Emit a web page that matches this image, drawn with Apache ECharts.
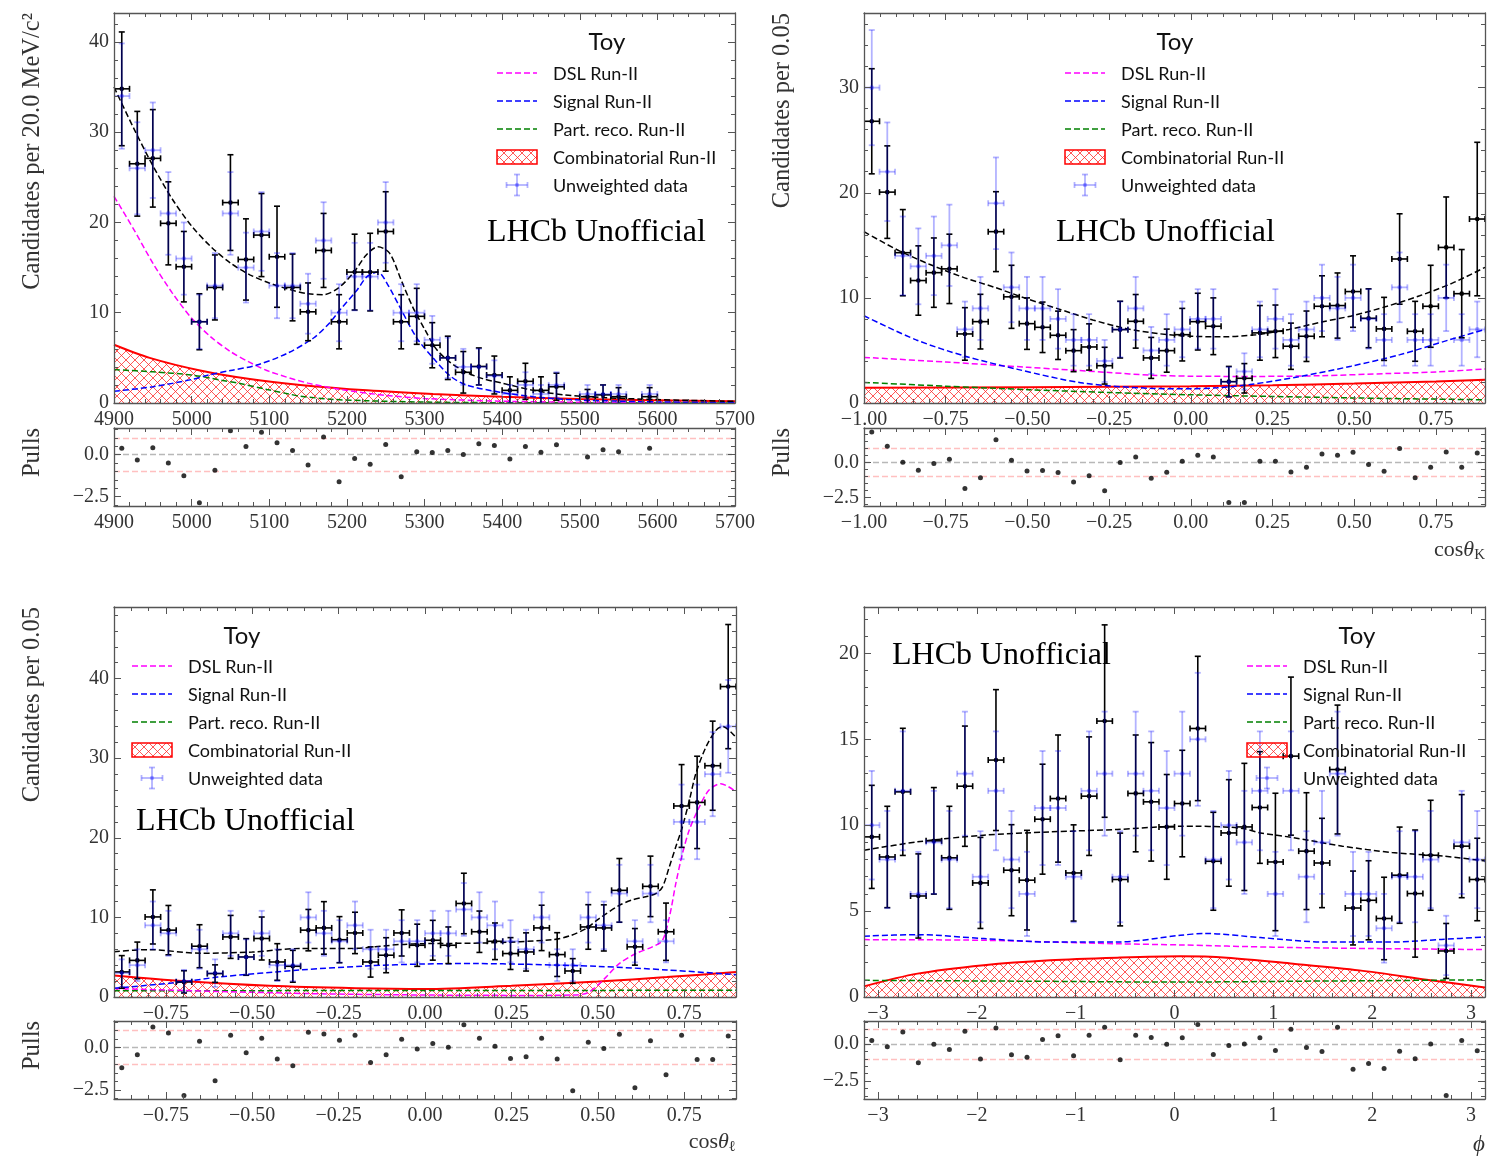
<!DOCTYPE html>
<html>
<head>
<meta charset="utf-8">
<script src="https://cdn.jsdelivr.net/npm/echarts@6/dist/echarts.min.js"></script>
<style>
  html, body { margin: 0; padding: 0; background: #fff; }
  #chart { width: 1491px; height: 1156px; }
</style>
</head>
<body>
<div id="chart"></div>
<script>
// ---------------- Binning ----------------
const massRange = [4900, 5700];
const cosKRange = [-1.0, 0.9];
const cosLRange = [-0.9, 0.9];
const phiRange = [-Math.PI, Math.PI];
const nBins = 40;

// ---------------- B mass panel ----------------
const massWeighted = [34.8, 26.5, 27.1, 19.9, 15.1, 9.0, 12.8, 22.2, 15.9, 18.6, 16.2, 12.8, 10.1, 16.9, 9.0, 14.5, 14.5, 19.0, 9.0, 9.6, 6.4, 5.0, 3.4, 4.05, 3.1, 1.4, 2.4, 1.4, 1.8, null, 0.7, 0.9, 0.7, null, 0.7, null, null, null, null, null];
const massWeightedErr = [6.3, 5.8, 5.4, 4.6, 3.9, 3.1, 3.6, 5.3, 4.5, 4.6, 5.6, 3.7, 3.2, 4.1, 3.0, 4.2, 4.3, 4.4, 3.0, 3.1, 2.5, 2.4, 2.3, 2.05, 2.1, 1.5, 2.0, 1.5, 1.5, null, 0.8, 1.1, 1.0, null, 1.0, null, null, null, null, null];
const massUnweighted = [34, 26, 28, 21, 16, 9, 13, 21, 15, 19, 13, 13, 11, 18, 10, 14, 14, 20, 10, 10, 7, 5, 4, 4, 3, 1, 2, 1, 2, null, 1, 1, 1, null, 1, null, null, null, null, null];
const massUnweightedErr = [5.83, 5.10, 5.29, 4.58, 4.00, 3.00, 3.61, 4.58, 3.87, 4.36, 3.61, 3.61, 3.32, 4.24, 3.16, 3.74, 3.74, 4.47, 3.16, 3.16, 2.65, 2.24, 2.00, 2.00, 1.73, 1.00, 1.41, 1.00, 1.41, null, 1.00, 1.00, 1.00, null, 1.00, null, null, null, null, null];
const massPulls = [0.38, -0.32, 0.40, -0.50, -1.26, -2.86, -0.94, 1.42, 0.48, 1.32, 0.70, 0.24, -0.62, 1.04, -1.62, -0.24, -0.58, 0.60, -1.32, 0.16, 0.12, 0.24, 0.00, 0.64, 0.54, -0.26, 0.48, 0.14, 0.58, null, -0.14, 0.28, 0.16, null, 0.38, null, null, null, null, null];
const massTotal = [[4900,35.0],[4925,30.5],[4950,26.3],[4975,22.6],[5000,19.6],[5025,17.3],[5050,15.5],[5075,14.2],[5100,13.3],[5125,12.6],[5150,12.1],[5170,12.0],[5190,12.8],[5210,14.6],[5225,16.4],[5240,17.3],[5255,16.6],[5270,13.6],[5285,10.6],[5300,8.2],[5315,6.0],[5333,4.5],[5354,3.4],[5375,2.7],[5400,2.2],[5440,1.4],[5480,0.9],[5530,0.6],[5600,0.38],[5700,0.18]];
const massDSL = [[4900,22.9],[4925,19.3],[4950,15.5],[4975,12.2],[5000,9.4],[5025,7.3],[5050,5.7],[5075,4.5],[5100,3.5],[5150,2.2],[5200,1.4],[5250,0.85],[5300,0.5],[5400,0.2],[5500,0.08],[5600,0.03],[5700,0.01]];
const massSignal = [[4900,1.3],[4950,1.8],[5000,2.6],[5022,3.1],[5050,3.6],[5084,4.2],[5123,5.5],[5157,7.2],[5178,8.9],[5191,10.3],[5213,12.5],[5226,14.0],[5240,14.5],[5252,13.2],[5269,10.5],[5290,7.2],[5311,5.0],[5333,3.0],[5354,2.0],[5397,1.2],[5440,0.7],[5483,0.4],[5530,0.25],[5600,0.12],[5700,0.05]];
const massPartReco = [[4900,3.7],[4950,3.45],[5000,3.1],[5040,2.5],[5060,2.2],[5097,1.5],[5125,1.0],[5140,0.75],[5183,0.4],[5226,0.25],[5300,0.1],[5400,0.03],[5700,0.0]];
const massComb = [[4900,6.45],[4946,5.0],[5011,3.6],[5075,2.65],[5140,2.0],[5226,1.4],[5311,1.0],[5400,0.7],[5500,0.45],[5600,0.3],[5700,0.2]];

// ---------------- cos(theta_K) panel ----------------
const cosKWeighted = [26.8, 20.06, 14.3, 11.65, 12.4, 12.76, 6.57, 7.74, 16.3, 10.1, 7.55, 7.2, 6.44, 4.98, 5.33, 3.55, 6.98, 7.77, 4.29, 4.98, 6.5, 7.74, 7.3, 2.03, 2.35, 6.67, 6.82, 5.4, 6.35, 9.2, 9.27, 10.6, 8.06, 7.05, 13.7, 6.82, 9.2, 14.8, 10.4, 17.5];
const cosKWeightedErr = [5.0, 4.4, 4.1, 3.3, 3.3, 3.3, 2.5, 2.6, 3.8, 3.0, 2.45, 2.4, 2.3, 2.0, 2.2, 1.75, 2.7, 2.55, 1.95, 2.05, 2.5, 2.7, 2.7, 1.45, 1.4, 2.6, 2.5, 2.2, 2.4, 2.9, 3.1, 3.4, 2.8, 3.0, 4.3, 2.85, 3.9, 4.8, 4.2, 7.3];
const cosKUnweighted = [30, 22, 14, 13, 14, 15, 7, 9, 19, 11, 9, 9, 8, 6, 6, 4, 7, 9, 5, 6, 7, 8, 8, 2, 3, 7, 8, 6, 7, 10, 9, 10, 8, 6, 11, 6, 6, 10, 6, 7];
const cosKUnweightedErr = [5.48, 4.69, 3.74, 3.61, 3.74, 3.87, 2.65, 3.00, 4.36, 3.32, 3.00, 3.00, 2.83, 2.45, 2.45, 2.00, 2.65, 3.00, 2.24, 2.45, 2.65, 2.83, 2.83, 1.41, 1.73, 2.65, 2.83, 2.45, 2.65, 3.16, 3.00, 3.16, 2.83, 2.45, 3.32, 2.45, 2.45, 3.16, 2.45, 2.65];
const cosKPulls = [2.19, 1.17, 0.02, -0.55, -0.07, 0.24, -1.86, -1.10, 1.64, 0.17, -0.60, -0.57, -0.71, -1.40, -0.95, -2.02, 0.00, 0.40, -1.12, -0.69, 0.10, 0.52, 0.40, -2.86, -2.86, 0.10, 0.10, -0.67, -0.33, 0.62, 0.52, 0.74, -0.14, -0.62, 1.00, -1.10, -0.33, 0.76, -0.33, 0.69];
const cosKTotal = [[-1.0,16.3],[-0.9,14.6],[-0.8,13.2],[-0.7,12.0],[-0.6,11.0],[-0.5,9.9],[-0.4,8.9],[-0.3,7.9],[-0.2,7.1],[-0.1,6.6],[0.0,6.35],[0.1,6.3],[0.2,6.5],[0.3,7.0],[0.4,7.7],[0.5,8.35],[0.6,9.2],[0.7,10.2],[0.8,11.4],[0.9,12.9]];
const cosKDSL = [[-1.0,4.34],[-0.75,3.9],[-0.5,3.4],[-0.25,2.9],[-0.125,2.65],[0.0,2.55],[0.2,2.53],[0.4,2.6],[0.6,2.8],[0.75,2.95],[0.9,3.24]];
const cosKSignal = [[-1.0,8.3],[-0.84,6.0],[-0.69,4.45],[-0.53,3.2],[-0.33,1.9],[-0.125,1.4],[0.0,1.35],[0.08,1.45],[0.18,1.75],[0.33,2.5],[0.49,3.5],[0.64,4.6],[0.79,6.0],[0.9,7.0]];
const cosKPartReco = [[-1.0,1.96],[-0.75,1.6],[-0.5,1.27],[-0.25,1.0],[0.0,0.78],[0.25,0.62],[0.5,0.48],[0.75,0.37],[0.9,0.31]];
const cosKComb = [[-1.0,1.45],[-0.5,1.5],[0.0,1.6],[0.25,1.7],[0.5,1.85],[0.75,2.05],[0.9,2.2]];

// ---------------- cos(theta_l) panel ----------------
const cosLWeighted = [3.15, 4.6, 10.06, 8.4, 1.9, 6.38, 2.94, 7.55, 5.03, 7.35, 4.4, 3.86, 8.4, 8.68, 7.2, 8.05, 4.4, 5.25, 8.05, 6.5, 7.13, 6.5, 11.75, 8.2, 7.0, 5.46, 5.66, 8.68, 5.33, 3.27, 8.8, 8.68, 13.4, 6.3, 13.9, 8.2, 24.0, 24.45, 29.06, 39.0];
const cosLWeightedErr = [2.05, 2.3, 3.4, 3.1, 1.4, 2.7, 1.1, 2.7, 2.3, 2.7, 2.3, 2.0, 2.6, 3.3, 2.9, 2.6, 1.9, 2.2, 2.9, 2.65, 2.5, 2.3, 3.8, 2.6, 2.3, 2.0, 2.4, 2.85, 2.75, 1.55, 2.8, 2.9, 4.0, 2.3, 3.8, 3.6, 5.2, 5.8, 5.6, 7.8];
const cosLUnweighted = [3, 4, 9, 8, 2, 6, 3, 8, 5, 8, 4, 4, 10, 8, 7, 9, 6, 6, 7, 7, 8, 8, 11, 10, 9, 7, 6, 10, 4, 4, 10, 9, 13, 7, 13, 7, 22, 22, 28, 34];
const cosLUnweightedErr = [1.73, 2.00, 3.00, 2.83, 1.41, 2.45, 1.73, 2.83, 2.24, 2.83, 2.00, 2.00, 3.16, 2.83, 2.65, 3.00, 2.45, 2.45, 2.65, 2.65, 2.83, 2.83, 3.32, 3.16, 3.00, 2.65, 2.45, 3.16, 2.00, 2.00, 3.16, 3.00, 3.61, 2.65, 3.61, 2.65, 4.69, 4.69, 5.29, 5.83];
const cosLPulls = [-1.20, -0.43, 1.22, 0.86, -2.84, 0.37, -1.96, 0.73, -0.31, 0.55, -0.67, -1.08, 0.90, 0.80, 0.43, 0.73, -0.88, -0.43, 0.49, -0.08, 0.24, 0.02, 1.35, 0.55, 0.08, -0.65, -0.55, 0.55, -0.67, -2.55, 0.31, -0.06, 0.78, -2.37, 0.41, -1.61, 0.73, -0.71, -0.71, 0.69];
const cosLTotal = [[-0.9,5.7],[-0.8,5.95],[-0.65,5.5],[-0.5,5.65],[-0.36,6.1],[-0.22,6.1],[-0.07,6.6],[0.0,6.7],[0.18,6.8],[0.37,7.2],[0.42,7.7],[0.466,8.6],[0.504,9.86],[0.562,11.5],[0.6,12.2],[0.639,12.6],[0.668,13.0],[0.687,13.8],[0.707,16.35],[0.726,18.9],[0.745,21.4],[0.765,24.7],[0.784,28.1],[0.813,31.4],[0.842,33.5],[0.861,34.0],[0.9,32.6]];
const cosLDSL = [[-0.9,1.06],[-0.6,0.7],[-0.3,0.4],[0.0,0.25],[0.3,0.2],[0.43,0.25],[0.47,0.5],[0.5,1.5],[0.524,2.5],[0.562,4.2],[0.61,5.46],[0.658,6.3],[0.687,7.1],[0.707,10.0],[0.726,14.3],[0.745,18.0],[0.765,21.0],[0.794,23.9],[0.822,26.0],[0.856,26.8],[0.9,25.8]];
const cosLSignal = [[-0.9,1.1],[-0.7,1.9],[-0.6,2.5],[-0.36,3.4],[-0.17,3.9],[0.0,4.15],[0.15,4.2],[0.3,4.1],[0.5,3.85],[0.7,3.4],[0.9,2.8]];
const cosLPartReco = [[-0.9,0.78],[-0.45,0.8],[0.0,0.82],[0.45,0.83],[0.9,0.84]];
const cosLComb = [[-0.9,2.7],[-0.7,2.0],[-0.45,1.4],[-0.2,1.1],[0.0,1.0],[0.25,1.4],[0.5,1.95],[0.7,2.5],[0.9,3.15]];

// ---------------- phi panel ----------------
const phiWeighted = [9.32, 8.15, 11.94, 5.88, 9.09, 8.1, 12.27, 6.64, 13.79, 7.38, 6.8, 10.35, 11.55, 7.22, 11.69, 16.06, 6.84, 11.85, 11.36, 9.9, 11.26, 15.63, 7.9, 9.55, 9.9, 11.03, 7.86, 14.02, 8.49, 7.8, 13.24, 5.18, 5.63, 4.57, 7.09, 6.02, 8.25, 2.68, 8.78, 6.84];
const phiWeightedErr = [3.0, 2.95, 3.7, 2.45, 3.1, 3.0, 3.5, 2.65, 4.1, 2.65, 2.9, 3.2, 3.7, 2.8, 3.45, 5.6, 2.7, 3.4, 3.45, 3.05, 3.1, 4.2, 2.85, 3.1, 3.7, 3.25, 4.0, 4.6, 3.4, 2.6, 3.75, 2.15, 2.3, 2.4, 2.8, 3.7, 3.2, 1.6, 3.0, 2.4];
const phiUnweighted = [10, 8, 12, 6, 9, 8, 13, 7, 12, 8, 6, 11, 11, 7, 12, 13, 7, 13, 12, 11, 13, 15, 8, 10, 9, 12, 6, 12, 7, 9, 13, 6, 6, 4, 7, 7, 8, 3, 9, 8];
const phiUnweightedErr = [3.16, 2.83, 3.46, 2.45, 3.00, 2.83, 3.61, 2.65, 3.46, 2.83, 2.45, 3.32, 3.32, 2.65, 3.46, 3.61, 2.65, 3.61, 3.46, 3.32, 3.61, 3.87, 2.83, 3.16, 3.00, 3.46, 2.45, 3.46, 2.65, 3.00, 3.61, 2.45, 2.45, 2.00, 2.65, 2.65, 2.83, 1.73, 3.00, 2.83];
const phiPulls = [0.25, -0.18, 0.83, -1.26, 0.00, -0.36, 0.88, -1.01, 1.10, -0.72, -0.88, 0.31, 0.58, -0.79, 0.61, 1.15, -1.06, 0.61, 0.45, 0.00, 0.43, 1.33, -0.70, -0.09, 0.02, 0.43, -0.43, 1.01, -0.22, -0.49, 1.15, -1.69, -1.30, -1.64, -0.47, -0.99, 0.02, -3.48, 0.25, -0.45];
const phiTotal = [[-3.1416,8.54],[-2.6,9.03],[-1.93,9.42],[-1.26,9.61],[-0.58,9.75],[0.06,9.94],[0.2,9.94],[0.5,9.9],[0.7,9.8],[0.87,9.55],[1.2,9.28],[1.7,8.78],[2.2,8.41],[2.72,8.2],[3.1416,7.92]];
const phiDSL = [[-3.1416,3.34],[-1.93,3.3],[-0.58,3.1],[0.06,3.03],[1.0,2.9],[2.0,2.82],[3.1416,2.76]];
const phiSignal = [[-3.1416,3.54],[-2.6,3.63],[-1.93,3.4],[-1.26,3.2],[-0.58,3.2],[0.06,3.59],[0.3,3.7],[0.87,3.46],[1.53,3.2],[2.2,3.2],[2.7,3.35],[3.1416,3.49]];
const phiPartReco = [[-3.1416,0.97],[-1.5,0.92],[0.0,0.87],[1.5,0.93],[3.1416,1.0]];
const phiComb = [[-3.1416,0.62],[-2.6,1.36],[-1.93,1.85],[-1.26,2.14],[-0.58,2.29],[0.06,2.37],[0.53,2.29],[1.2,1.94],[1.87,1.55],[2.55,1.01],[3.1416,0.55]];

// ---------------- Tick labels ----------------
const massTicks = [4900, 5000, 5100, 5200, 5300, 5400, 5500, 5600, 5700];
const cosKTicks = [-1.0, -0.75, -0.5, -0.25, 0.0, 0.25, 0.5, 0.75];
const cosLTicks = [-0.75, -0.5, -0.25, 0.0, 0.25, 0.5, 0.75];
const phiTicks = [-3, -2, -1, 0, 1, 2, 3];
const massYTicks = [0, 10, 20, 30, 40];
const cosKYTicks = [0, 10, 20, 30];
const cosLYTicks = [0, 10, 20, 30, 40];
const phiYTicks = [0, 5, 10, 15, 20];
const pullTicks = [-2.5, 0.0];

const legendLabels = ['DSL Run-II', 'Signal Run-II', 'Part. reco. Run-II', 'Combinatorial Run-II', 'Unweighted data'];

// ---------------- Styling ----------------
const SERIF = '"Liberation Serif", "DejaVu Serif", serif';
const SANS = 'Lato, "Open Sans", "DejaVu Sans", sans-serif';
const FRAME = '#555555';
const LABEL = '#333333';
const MINUS = '\u2212';
const C_DSL = '#ff00ff', C_SIG = '#0000ff', C_PR = '#008000', C_COMB = '#ff0000';
const C_UNW = 'rgba(0,0,255,0.3)';

// red cross-hatch used for the combinatorial component
function makeHatch() {
  const n = 9;
  const c = document.createElement('canvas');
  c.width = n; c.height = n;
  const g = c.getContext('2d');
  g.strokeStyle = '#ff2020';
  g.lineWidth = 0.75;
  g.beginPath();
  g.moveTo(0, 0); g.lineTo(n, n);
  g.moveTo(n, 0); g.lineTo(0, n);
  g.stroke();
  return { image: c, repeat: 'repeat' };
}
const HATCH = makeHatch();

const signed = (v, d) => (v < 0 ? MINUS : '') + Math.abs(v).toFixed(d);
const fmtInt = v => signed(v, 0);
const fmt2 = v => signed(v, 2);
const fmt1 = v => signed(v, 1);

function stepTicks(lo, hi, step) {
  const out = [];
  const n0 = Math.ceil(lo / step - 1e-9), n1 = Math.floor(hi / step + 1e-9);
  for (let n = n0; n <= n1; n++) out.push(+(n * step).toFixed(6));
  return out;
}
function centers(range) {
  const w = (range[1] - range[0]) / nBins;
  return Array.from({ length: nBins }, (_, i) => range[0] + (i + 0.5) * w);
}

// ---------------- Layout building ----------------
const grids = [], xAxes = [], yAxes = [], series = [], graphics = [];

function axisDef(dim, gridIndex, position, range, ticks, major, showLabels, fmt) {
  return {
    type: 'value', gridIndex, position, min: range[0], max: range[1],
    axisLine: { show: major, onZero: false, lineStyle: { color: FRAME, width: 1.3 } },
    axisTick: { show: true, inside: true, length: major ? 7 : 4, customValues: ticks,
                lineStyle: { color: FRAME, width: 1 } },
    axisLabel: { show: showLabels, customValues: ticks, formatter: fmt, color: LABEL,
                 fontFamily: SERIF, fontSize: 20, margin: dim === 'x' ? 7 : 5 },
    splitLine: { show: false }, minorTick: { show: false }, z: 10
  };
}

// one framed box: a grid for the major ticks and an overlaid grid for the minor ticks
function addBox(rect, xr, yr, xMajor, xMinorStep, yMajor, yMinorStep, xFmt, yFmt) {
  const xMinor = stepTicks(xr[0], xr[1], xMinorStep);
  const yMinor = stepTicks(yr[0], yr[1], yMinorStep);
  const gMajor = grids.length;
  grids.push(Object.assign({ containLabel: false, outerBoundsMode: 'none' }, rect));
  grids.push(Object.assign({ containLabel: false, outerBoundsMode: 'none' }, rect));
  const xi = xAxes.length, yi = yAxes.length;
  xAxes.push(axisDef('x', gMajor, 'bottom', xr, xMajor, true, true, xFmt));
  xAxes.push(axisDef('x', gMajor, 'top', xr, xMajor, true, false, xFmt));
  xAxes.push(axisDef('x', gMajor + 1, 'bottom', xr, xMinor, false, false, xFmt));
  xAxes.push(axisDef('x', gMajor + 1, 'top', xr, xMinor, false, false, xFmt));
  yAxes.push(axisDef('y', gMajor, 'left', yr, yMajor, true, true, yFmt));
  yAxes.push(axisDef('y', gMajor, 'right', yr, yMajor, true, false, yFmt));
  yAxes.push(axisDef('y', gMajor + 1, 'left', yr, yMinor, false, false, yFmt));
  yAxes.push(axisDef('y', gMajor + 1, 'right', yr, yMinor, false, false, yFmt));
  return { xAxisIndex: xi, yAxisIndex: yi };
}

function curveSeries(ax, name, data, color, z) {
  return Object.assign({
    type: 'line', name, data, symbol: 'none', smooth: 0.3, silent: true, z,
    lineStyle: { color, width: 1.5, type: [6, 3] }
  }, ax);
}
function combSeries(ax, data) {
  return Object.assign({
    type: 'line', name: 'Combinatorial Run-II', data, symbol: 'none', smooth: 0.3, silent: true, z: 2,
    lineStyle: { color: C_COMB, width: 2 },
    areaStyle: { color: HATCH, opacity: 1, origin: 'start' }
  }, ax);
}
function errorSeries(ax, name, xs, ys, es, halfW, color, lw, z) {
  const data = [];
  xs.forEach((x, i) => { if (ys[i] != null) data.push([x, ys[i], es[i]]); });
  return Object.assign({
    type: 'custom', name, data, z, clip: true, silent: true,
    encode: { x: 0, y: 1 },
    renderItem(params, api) {
      const x = api.value(0), y = api.value(1), e = api.value(2);
      const c = api.coord([x, y]);
      const hi = api.coord([x, y + e]), lo = api.coord([x, y - e]);
      const l = api.coord([x - halfW, y]), r = api.coord([x + halfW, y]);
      const cap = 3;
      const st = { stroke: color, lineWidth: lw, fill: null };
      return {
        type: 'group',
        children: [
          { type: 'line', shape: { x1: c[0], y1: hi[1], x2: c[0], y2: lo[1] }, style: st },
          { type: 'line', shape: { x1: c[0] - cap, y1: hi[1], x2: c[0] + cap, y2: hi[1] }, style: st },
          { type: 'line', shape: { x1: c[0] - cap, y1: lo[1], x2: c[0] + cap, y2: lo[1] }, style: st },
          { type: 'line', shape: { x1: l[0], y1: c[1], x2: r[0], y2: c[1] }, style: st },
          { type: 'line', shape: { x1: l[0], y1: c[1] - cap, x2: l[0], y2: c[1] + cap }, style: st },
          { type: 'line', shape: { x1: r[0], y1: c[1] - cap, x2: r[0], y2: c[1] + cap }, style: st },
          { type: 'circle', shape: { cx: c[0], cy: c[1], r: 2.3 }, style: { fill: color } }
        ]
      };
    }
  }, ax);
}
function pullSeries(ax, xs, pulls) {
  const data = [];
  xs.forEach((x, i) => { if (pulls[i] != null) data.push([x, pulls[i]]); });
  const ref = (v, color) => ({ yAxis: v, lineStyle: { color, type: [6, 3], width: 1.3 } });
  return Object.assign({
    type: 'scatter', name: 'Pulls', data, symbol: 'circle', symbolSize: 5, silent: true, z: 5,
    itemStyle: { color: '#000' },
    markLine: { silent: true, symbol: ['none', 'none'], label: { show: false }, animation: false,
      data: [ref(0, '#b8b8b8'), ref(1, '#ffc0c0'), ref(-1, '#ffc0c0')] }
  }, ax);
}

function legendBlock(x0, y0, titleX, titleY) {
  const rows = [0, 28, 56, 84, 112].map(d => y0 + d);
  const els = [];
  els.push({ type: 'text', x: titleX, y: titleY, z: 100,
    style: { text: 'Toy', fontFamily: SANS, fontSize: 24, fill: '#111', align: 'center', verticalAlign: 'middle' } });
  const dashed = (y, color) => ({ type: 'line', z: 100, shape: { x1: x0, y1: y, x2: x0 + 40, y2: y },
    style: { stroke: color, lineWidth: 1.5, lineDash: [6, 3] } });
  els.push(dashed(rows[0], C_DSL));
  els.push(dashed(rows[1], C_SIG));
  els.push(dashed(rows[2], C_PR));
  els.push({ type: 'rect', z: 100, shape: { x: x0, y: rows[3] - 7, width: 40, height: 14 },
    style: { fill: HATCH, stroke: C_COMB, lineWidth: 1.5 } });
  const cx = x0 + 20, cy = rows[4], h = 10.5, cap = 3;
  const st = { stroke: C_UNW, lineWidth: 1.8 };
  [[cx - h, cy, cx + h, cy], [cx, cy - h, cx, cy + h],
   [cx - h, cy - cap, cx - h, cy + cap], [cx + h, cy - cap, cx + h, cy + cap],
   [cx - cap, cy - h, cx + cap, cy - h], [cx - cap, cy + h, cx + cap, cy + h]]
    .forEach(s => els.push({ type: 'line', z: 100, shape: { x1: s[0], y1: s[1], x2: s[2], y2: s[3] }, style: st }));
  els.push({ type: 'circle', z: 100, shape: { cx, cy, r: 2.2 }, style: { fill: C_UNW } });
  legendLabels.forEach((t, i) => els.push({ type: 'text', x: x0 + 56, y: rows[i] + 1, z: 100,
    style: { text: t, fontFamily: SANS, fontSize: 18, fill: '#111', align: 'left', verticalAlign: 'middle' } }));
  return els;
}
function lhcbLabel(x, y) {
  return { type: 'text', x, y, z: 100,
    style: { text: 'LHCb Unofficial', fontFamily: SERIF, fontSize: 32, fill: '#000', align: 'left', verticalAlign: 'middle' } };
}
function yTitle(x, yTop, text) {
  return { type: 'text', x, y: yTop, rotation: Math.PI / 2, z: 100,
    style: { text, fontFamily: SERIF, fontSize: 24.5, fill: LABEL, align: 'right', verticalAlign: 'middle' } };
}
function xTitle(xRight, y, sub) {
  return { type: 'text', x: xRight, y, z: 100,
    style: { text: '{a|cos}{b|θ}{c|' + sub + '}', align: 'right', verticalAlign: 'middle',
      rich: { a: { fontFamily: SERIF, fontSize: 22, fill: LABEL },
              b: { fontFamily: SERIF, fontSize: 22, fontStyle: 'italic', fill: LABEL },
              c: { fontFamily: SERIF, fontSize: 15, fill: LABEL, padding: [10, 0, 0, 0] } } } };
}

function buildPanel(cfg) {
  const xs = centers(cfg.range);
  const halfW = (cfg.range[1] - cfg.range[0]) / nBins / 2;
  const main = addBox(cfg.main, cfg.range, [0, cfg.yMax], cfg.xTicks, cfg.xMinor, cfg.yTicks, cfg.yMinor, cfg.xFmt, fmtInt);
  const pull = addBox(cfg.pull, cfg.range, cfg.pullRange, cfg.xTicks, cfg.xMinor, pullTicks, 0.5, cfg.xFmt, fmt1);
  series.push(combSeries(main, cfg.comb));
  series.push(curveSeries(main, 'Part. reco. Run-II', cfg.partReco, C_PR, 3));
  series.push(curveSeries(main, 'DSL Run-II', cfg.dsl, C_DSL, 3));
  series.push(curveSeries(main, 'Signal Run-II', cfg.signal, C_SIG, 3));
  series.push(curveSeries(main, 'Total fit', cfg.total, '#000000', 4));
  series.push(errorSeries(main, 'Weighted data', xs, cfg.w, cfg.we, halfW, '#000000', 1.6, 5));
  series.push(errorSeries(main, 'Unweighted data', xs, cfg.u, cfg.ue, halfW, C_UNW, 1.8, 6));
  series.push(pullSeries(pull, xs, cfg.pulls));
}

buildPanel({
  range: massRange, main: { left: 114, top: 13, width: 621, height: 390 },
  pull: { left: 114, top: 428, width: 621, height: 78 },
  yMax: 43.2, pullRange: [-3.06, 1.58], xTicks: massTicks, xMinor: 20, yTicks: massYTicks, yMinor: 2,
  xFmt: v => String(v),
  w: massWeighted, we: massWeightedErr, u: massUnweighted, ue: massUnweightedErr, pulls: massPulls,
  total: massTotal, dsl: massDSL, signal: massSignal, partReco: massPartReco, comb: massComb
});
buildPanel({
  range: cosKRange, main: { left: 864, top: 13, width: 621, height: 390 },
  pull: { left: 864, top: 428, width: 621, height: 78 },
  yMax: 37.1, pullRange: [-3.12, 2.48], xTicks: cosKTicks, xMinor: 0.05, yTicks: cosKYTicks, yMinor: 2,
  xFmt: fmt2,
  w: cosKWeighted, we: cosKWeightedErr, u: cosKUnweighted, ue: cosKUnweightedErr, pulls: cosKPulls,
  total: cosKTotal, dsl: cosKDSL, signal: cosKSignal, partReco: cosKPartReco, comb: cosKComb
});
buildPanel({
  range: cosLRange, main: { left: 114, top: 607, width: 622, height: 390 },
  pull: { left: 114, top: 1021, width: 622, height: 78 },
  yMax: 49.0, pullRange: [-3.04, 1.57], xTicks: cosLTicks, xMinor: 0.05, yTicks: cosLYTicks, yMinor: 2,
  xFmt: fmt2,
  w: cosLWeighted, we: cosLWeightedErr, u: cosLUnweighted, ue: cosLUnweightedErr, pulls: cosLPulls,
  total: cosLTotal, dsl: cosLDSL, signal: cosLSignal, partReco: cosLPartReco, comb: cosLComb
});
buildPanel({
  range: phiRange, main: { left: 864, top: 607, width: 621, height: 390 },
  pull: { left: 864, top: 1021, width: 621, height: 78 },
  yMax: 22.7, pullRange: [-3.71, 1.57], xTicks: phiTicks, xMinor: 0.2, yTicks: phiYTicks, yMinor: 1,
  xFmt: fmtInt,
  w: phiWeighted, we: phiWeightedErr, u: phiUnweighted, ue: phiUnweightedErr, pulls: phiPulls,
  total: phiTotal, dsl: phiDSL, signal: phiSignal, partReco: phiPartReco, comb: phiComb
});

// legends, labels and axis titles
graphics.push(...legendBlock(497, 73, 607, 42));
graphics.push(...legendBlock(1065, 73, 1175, 42));
graphics.push(...legendBlock(132, 666, 242, 636));
graphics.push(...legendBlock(1247, 666, 1357, 636));
graphics.push(lhcbLabel(487, 233), lhcbLabel(1056, 233), lhcbLabel(136, 822), lhcbLabel(892, 656));
graphics.push(yTitle(33, 13, 'Candidates per 20.0 MeV/c²'));
graphics.push(yTitle(33, 428, 'Pulls'));
graphics.push(yTitle(783, 13, 'Candidates per 0.05'));
graphics.push(yTitle(783, 428, 'Pulls'));
graphics.push(yTitle(33, 607, 'Candidates per 0.05'));
graphics.push(yTitle(33, 1021, 'Pulls'));
graphics.push(xTitle(1485, 550, 'K'));
graphics.push(xTitle(736, 1142, 'ℓ'));
graphics.push({ type: 'text', x: 1485, y: 1145, z: 100,
  style: { text: 'ϕ', fontFamily: SERIF, fontSize: 23, fontStyle: 'italic', fill: LABEL, align: 'right', verticalAlign: 'middle' } });

const chart = echarts.init(document.getElementById('chart'), null, { renderer: 'canvas' });
chart.setOption({
  animation: false,
  backgroundColor: '#ffffff',
  grid: grids,
  xAxis: xAxes,
  yAxis: yAxes,
  series,
  graphic: { elements: graphics }
});
</script>
</body>
</html>
